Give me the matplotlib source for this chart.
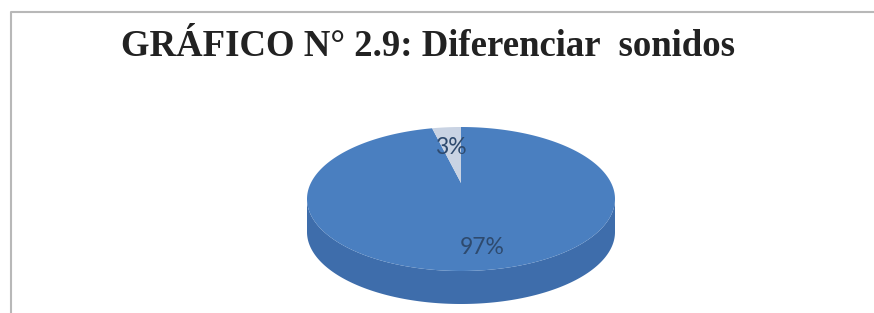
import numpy as np
import matplotlib.pyplot as plt
from matplotlib.patches import Polygon

# data
labels = ["97%", "3%"]
values = [97, 3]
colors = ["#4a7fc0", "#c9d3e3"]
side_colors = ["#3e6dab", "#aab6c8"]
title = "GRÁFICO N° 2.9: Diferenciar  sonidos"

W, H = 874, 313
fig = plt.figure(figsize=(W / 100, H / 100), dpi=100)
ax = fig.add_axes([0, 0, 1, 1])
ax.set_xlim(0, W)
ax.set_ylim(H, 0)
ax.axis("off")

# frame of the chart area
ax.plot([11, 11, W], [H, 12, 12], color="#b8b8b8", lw=1.5, solid_capstyle="butt")

# pie geometry (pixel units)
cx, cy = 461, 199
a, b = 154, 72
depth = 33


def pt(t, dy=0):
    return cx + a * np.cos(t), cy - b * np.sin(t) + dy


# slices: the small one starts at the top and runs counterclockwise
total = sum(values)
ang = np.pi / 2 + 2 * np.pi * values[1] / total
bounds = [(ang, np.pi / 2 + 2 * np.pi), (np.pi / 2, ang)]

# side walls (front half only)
for (s, e), sc in zip(bounds, side_colors):
    for k in range(-1, 3):
        lo = max(s, np.pi + 2 * np.pi * k)
        hi = min(e, 2 * np.pi + 2 * np.pi * k)
        if hi > lo:
            t = np.linspace(lo, hi, 200)
            xs, ys = pt(t)
            xb, yb = pt(t[::-1], depth)
            poly = np.column_stack([np.r_[xs, xb], np.r_[ys, yb]])
            ax.add_patch(Polygon(poly, closed=True, fc=sc, ec="none"))

# top faces
for (s, e), c in zip(bounds, colors):
    t = np.linspace(s, e, 400)
    xs, ys = pt(t)
    poly = np.column_stack([np.r_[cx, xs], np.r_[cy - 16, ys]])
    ax.add_patch(Polygon(poly, closed=True, fc=c, ec="none"))

# labels
ax.text(451, 148, labels[1], ha="center", va="center", fontsize=16.5,
        family="Lato", color="#2e4a6e")
ax.text(482, 247, labels[0], ha="center", va="center", fontsize=16.5,
        family="Lato", color="#2e4a6e")

ax.text(428, 47, title, ha="center", va="center", fontsize=26.5,
        family="Liberation Serif", fontweight="bold", color="#222222")

fig.savefig("out.png", dpi=100)
